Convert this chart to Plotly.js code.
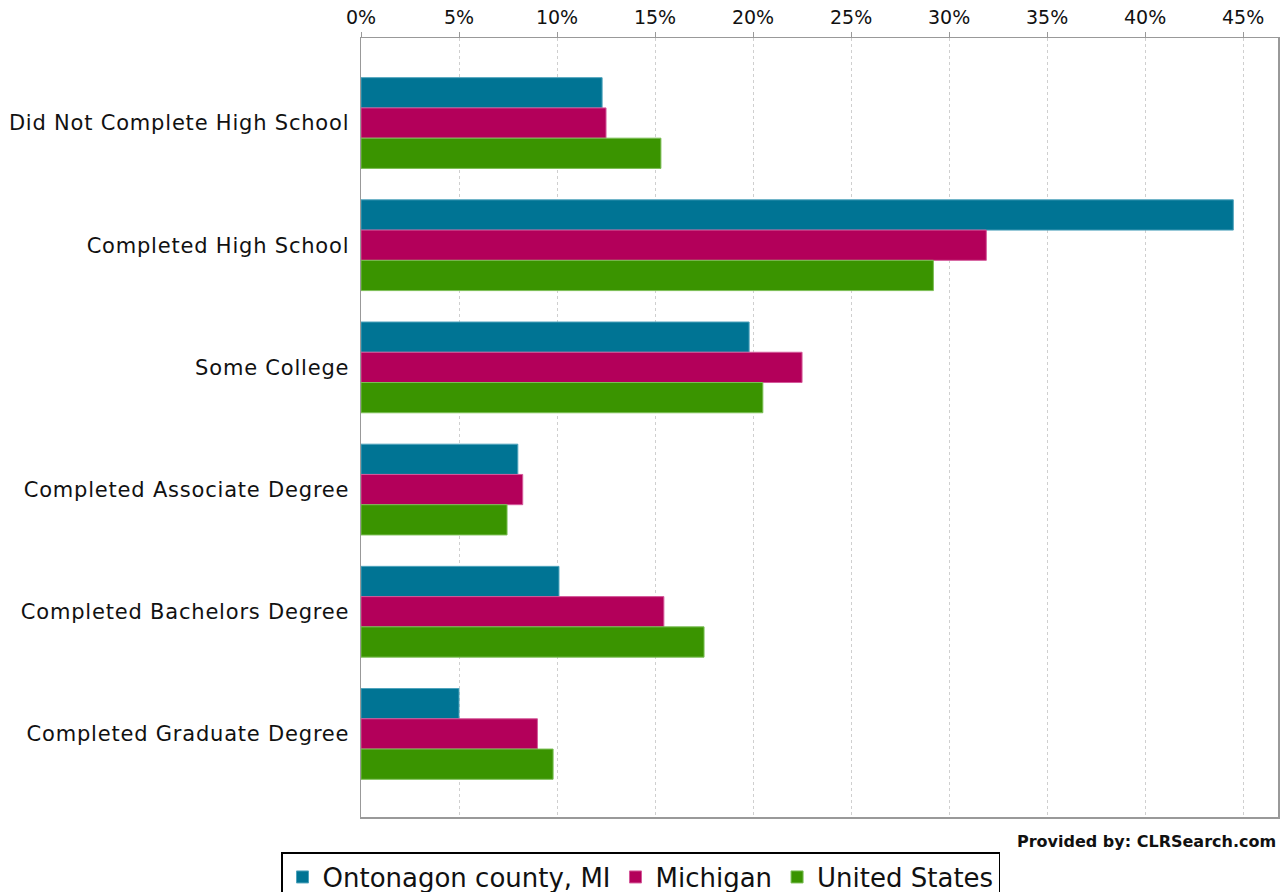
<!DOCTYPE html>
<html>
<head>
<meta charset="utf-8">
<script src="https://cdn.plot.ly/plotly-3.0.1.min.js"></script>
<style>
html,body{margin:0;padding:0;background:#fff;}
#chart{width:1281px;height:892px;}
#chart .ytick text{letter-spacing:0.8px;}
</style>
</head>
<body>
<div id="chart"></div>
<script>
const categories = [
  "Did Not Complete High School",
  "Completed High School",
  "Some College",
  "Completed Associate Degree",
  "Completed Bachelors Degree",
  "Completed Graduate Degree"
];
const seriesNames = ["Ontonagon county, MI", "Michigan", "United States"];
const ontonagon = [12.3, 44.5, 19.8, 8.0, 10.1, 5.0];
const michigan = [12.5, 31.9, 22.5, 8.25, 15.45, 9.0];
const unitedStates = [15.3, 29.2, 20.5, 7.45, 17.5, 9.8];
const tickValues = [0, 5, 10, 15, 20, 25, 30, 35, 40, 45];
const tickLabels = ["0%", "5%", "10%", "15%", "20%", "25%", "30%", "35%", "40%", "45%"];

const colors = ["#007494", "#B3005A", "#3A9400"];
const edge = ["#4FA3BC", "#D4599A", "#7BBE55"];
const values = [ontonagon, michigan, unitedStates];

const data = values.map((v, i) => ({
  type: "bar",
  orientation: "h",
  name: seriesNames[i],
  x: v,
  y: categories,
  marker: { color: colors[i], line: { color: edge[i], width: 1 } },
  hoverinfo: "x+name"
}));

const layout = {
  width: 1281,
  height: 892,
  margin: { l: 361, r: 3, t: 38, b: 75 },
  paper_bgcolor: "#fff",
  plot_bgcolor: "#fff",
  barmode: "group",
  bargap: 0.257,
  bargroupgap: 0,
  font: { family: "DejaVu Sans, sans-serif", color: "#111" },
  xaxis: {
    side: "top",
    range: [0, 46.78],
    tickvals: tickValues,
    ticktext: tickLabels,
    tickfont: { size: 19, color: "#111" },
    ticks: "outside",
    ticklen: 5,
    tickcolor: "#999",
    showgrid: true,
    gridcolor: "#cfcfcf",
    griddash: "3px,3px",
    gridwidth: 1,
    showline: true,
    linecolor: "#999",
    linewidth: 1.5,
    mirror: true,
    zeroline: false,
    fixedrange: true
  },
  yaxis: {
    type: "category",
    range: [5.68, -0.696],
    tickfont: { size: 21, color: "#111" },
    ticks: "",
    ticklabelstandoff: 6,
    showgrid: false,
    showline: true,
    linecolor: "#999",
    linewidth: 1.5,
    mirror: true,
    zeroline: false,
    fixedrange: true
  },
  showlegend: true,
  legend: {
    orientation: "h",
    xref: "container",
    yref: "container",
    x: 0.5,
    xanchor: "center",
    y: 0.0448,
    yanchor: "top",
    bgcolor: "#fff",
    bordercolor: "#000",
    borderwidth: 1.5,
    font: { size: 26, color: "#111" },
    itemwidth: 30,
    traceorder: "normal"
  },
  annotations: [{
    xref: "paper",
    yref: "paper",
    x: (1015 - 361) / 917,
    y: -0.0167,
    xanchor: "left",
    yanchor: "top",
    text: "<b>Provided by: CLRSearch.com</b>",
    showarrow: false,
    font: { size: 16, color: "#111", family: "DejaVu Sans, sans-serif" }
  }]
};

Plotly.newPlot("chart", data, layout, { displayModeBar: false, staticPlot: true });
</script>
</body>
</html>
